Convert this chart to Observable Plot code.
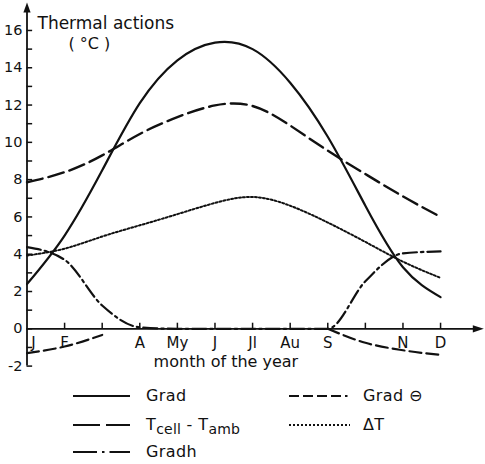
<!DOCTYPE html>
<html><head><meta charset="utf-8">
<script src="https://cdn.jsdelivr.net/npm/d3@7"></script>
<script src="https://cdn.jsdelivr.net/npm/@observablehq/plot@0.6"></script>
<style>
body{margin:0;background:#fff;font-family:"DejaVu Sans",sans-serif;color:#111}
#chart svg{display:block}
#legend{position:relative;width:485px;height:84px}
.sw{position:absolute;height:20px}
.lb{position:absolute;height:20px;line-height:20px;font-size:16px;letter-spacing:0.4px;white-space:nowrap}
.lb .sub{font-size:14px;position:relative;top:4px;letter-spacing:0.2px}
</style></head><body><div id="chart"></div><div id="legend"></div>
<script>
// ---- data ----
const months = ["J","F","M","A","My","J","Jl","Au","S","O","N","D"];
const monthLabels = ["J","F","","A","My","J","Jl","Au","S","","N","D"];
const grad    = [2.4, 5.0, 8.5, 12.1, 14.4, 15.35, 15.0, 13.2, 10.3, 6.6, 3.3, 1.7];
const tcell   = [7.86, 8.4, 9.3, 10.45, 11.35, 11.98, 11.95, 10.9, 9.55, 8.3, 7.1, 6.0];
const deltaT  = [3.93, 4.3, 4.95, 5.55, 6.15, 6.75, 7.07, 6.6, 5.7, 4.66, 3.6, 2.73];
const gradh   = [4.38, 3.7, 1.25, 0.08, 0, 0, 0, 0, 0, 2.55, 4.05, 4.15];
const gradNeg = [-1.3, -0.95, -0.33, null, null, null, null, null, 0, -0.75, -1.15, -1.4];
const yLabelTicks = [-2, 0, 2, 4, 6, 8, 10, 12, 14, 16];
const yMinorTicks = d3.range(-2, 17, 1);

const rows = months.map((m, i) => ({i, m, grad: grad[i], tcell: tcell[i], deltaT: deltaT[i], gradh: gradh[i], gradNeg: gradNeg[i]}));
const labelRows = monthLabels.map((t, i) => ({i, t})).filter(d => d.t !== "");

const ink = "#111";
const arrowRight = {draw(ctx, size){ ctx.moveTo(0,0); ctx.lineTo(-11,-3.6); ctx.lineTo(-11,3.6); ctx.closePath(); }};
const arrowUp = {draw(ctx, size){ ctx.moveTo(0,0); ctx.lineTo(-3.6,10); ctx.lineTo(3.6,10); ctx.closePath(); }};

const chart = Plot.plot({
  width: 485, height: 380,
  marginLeft: 26.5, marginRight: 1.7, marginTop: 2, marginBottom: 14.4,
  style: {fontFamily: "DejaVu Sans", color: ink, background: "#fff"},
  x: {domain: [0, 12.15], axis: null},
  y: {domain: [-2, 17.5], axis: null},
  marks: [
    // axes
    Plot.ruleX([0], {y1: -2, y2: 17.2, stroke: ink, strokeWidth: 1.8}),
    Plot.ruleY([0], {x1: 0, x2: 11.9, stroke: ink, strokeWidth: 1.8}),
    Plot.ruleY(yMinorTicks, {y: d => d, x1: 0, x2: 0.15, stroke: ink, strokeWidth: 1.5}),
    Plot.ruleX(d3.range(1, 12), {x: d => d, y1: 0, y2: 0.3, stroke: ink, strokeWidth: 1.5}),
    Plot.dot([0], {x: 12.15, y: 0, symbol: arrowRight, fill: ink, stroke: null, r: 4}),
    Plot.dot([0], {x: 0, y: 17.5, symbol: arrowUp, fill: ink, stroke: null, r: 4}),
    Plot.text(yLabelTicks, {x: 0, y: d => d, text: d => String(d), dx: -4.5, textAnchor: "end", fontSize: 14.5, fill: ink}),
    Plot.text(labelRows.filter(d => d.i > 0), {x: "i", y: 0, text: "t", dy: 14, fontSize: 15, fill: ink}),
    Plot.text(labelRows.filter(d => d.i === 0), {x: "i", y: 0, text: "t", dy: 14, dx: 6.5, fontSize: 15, fill: ink}),
    Plot.text(["month of the year"], {frameAnchor: "bottom", dx: -29.5, dy: 1, fontSize: 16, fill: ink, letterSpacing: 0.8}),
    Plot.text(["Thermal actions"], {frameAnchor: "top-left", textAnchor: "start", dx: 10.5, dy: 14, fontSize: 17, fill: ink, letterSpacing: 0.3}),
    Plot.text(["( °C )"], {frameAnchor: "top-left", textAnchor: "start", dx: 41.5, dy: 35, fontSize: 16, fill: ink}),
    // series
    Plot.line(rows, {x: "i", y: "tcell", curve: "natural", stroke: ink, strokeWidth: 2.4, strokeDasharray: "16,6"}),
    Plot.line(rows, {x: "i", y: "deltaT", curve: "natural", stroke: ink, strokeWidth: 2, strokeDasharray: "2,2"}),
    Plot.line(rows, {x: "i", y: "gradh", curve: "monotone-x", stroke: ink, strokeWidth: 2.2, strokeDasharray: "14,4,2.5,4"}),
    Plot.line(rows, {x: "i", y: "gradNeg", curve: "monotone-x", stroke: ink, strokeWidth: 2.2, strokeDasharray: "12,5"}),
    Plot.line(rows, {x: "i", y: "grad", curve: "natural", stroke: ink, strokeWidth: 2.2})
  ]
});
document.getElementById("chart").appendChild(chart);

// ---- legend ----
const legendItems = [
  {label: "Grad", dash: null, sx: 73, sw: 57, lx: 146, row: 0},
  {label: 'T<span class="sub">cell</span> - T<span class="sub">amb</span>', dash: "27,6", sx: 73, sw: 57, lx: 146, row: 1},
  {label: "Gradh", dash: "24,5,2.5,5", sx: 73, sw: 57, lx: 146, row: 2},
  {label: "Grad \u2296", dash: "10,4,10,4,10,4,10,4,2.5,10", sx: 289, sw: 61, lx: 363, row: 0},
  {label: "\u0394T", dash: "2,2", sx: 289, sw: 61, lx: 363, row: 1}
];
const rowCenters = [16, 45, 72];
const leg = document.getElementById("legend");
for (const it of legendItems) {
  const c = rowCenters[it.row];
  const s = document.createElementNS("http://www.w3.org/2000/svg", "svg");
  s.setAttribute("class", "sw");
  s.setAttribute("width", it.sw); s.setAttribute("height", 20);
  s.style.left = it.sx + "px"; s.style.top = (c - 10) + "px";
  const l = document.createElementNS("http://www.w3.org/2000/svg", "line");
  l.setAttribute("x1", 0); l.setAttribute("x2", it.sw); l.setAttribute("y1", 10); l.setAttribute("y2", 10);
  l.setAttribute("stroke", ink); l.setAttribute("stroke-width", it.dash === "2,2" ? 2 : 2.2);
  if (it.dash) l.setAttribute("stroke-dasharray", it.dash);
  s.appendChild(l); leg.appendChild(s);
  const t = document.createElement("div");
  t.className = "lb"; t.innerHTML = it.label;
  t.style.left = it.lx + "px"; t.style.top = (c - 10) + "px";
  leg.appendChild(t);
}
</script></body></html>
